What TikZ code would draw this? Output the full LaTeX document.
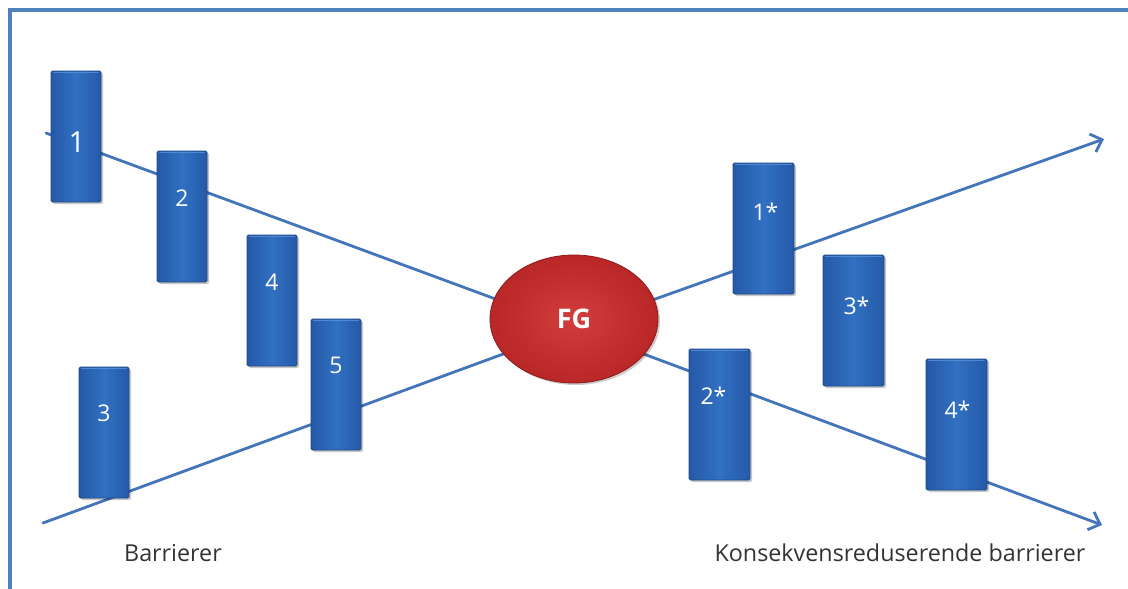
\documentclass[tikz,border=0pt]{standalone}
\usepackage{fontspec}
\setmainfont{Open Sans}
\usetikzlibrary{arrows.meta,shadows,shapes.geometric}

\definecolor{frameblue}{HTML}{4F81BD}
\definecolor{linkblue}{HTML}{4474BA}
\definecolor{barmid}{HTML}{3170C2}
\definecolor{baredge}{HTML}{2659A8}
\definecolor{barline}{HTML}{1E4A8A}
\definecolor{barhi}{HTML}{5A92D8}
\definecolor{fgin}{HTML}{D23C3C}
\definecolor{fgout}{HTML}{BA2727}
\definecolor{fgline}{HTML}{8E1B1B}
\definecolor{captext}{HTML}{333333}

\tikzset{
  bar/.style={rectangle, minimum width=50pt, minimum height=131pt, inner sep=0pt,
    left color=baredge, right color=baredge, middle color=barmid,
    draw=barline, line width=0.8pt, rounded corners=1.5pt,
    drop shadow={shadow xshift=2pt, shadow yshift=-2pt, opacity=0.22, fill=black}},
  widebar/.style={bar, minimum width=61pt},
  bevel/.style={draw=barhi, line width=1.2pt, opacity=0.8, line cap=round},
  bartext/.style={text=white, font=\fontsize{23}{25}\selectfont, inner sep=0pt},
  link/.style={draw=linkblue, line width=2.8pt, line cap=round},
  arrowlink/.style={link, -{Straight Barb[length=10pt, width=19pt, line width=2.8pt]}},
  caption/.style={text=captext, font=\fontsize{23.3}{25}\selectfont, inner sep=0pt},
}

\begin{document}
\begin{tikzpicture}[x=1pt, y=-1pt]
  \useasboundingbox (0,0) rectangle (1128,589);
  \fill[white] (0,0) rectangle (1128,589);

  % frame along the top and left edges
  \fill[frameblue] (8,8) rectangle (1128,12);
  \fill[frameblue] (8,8) rectangle (12,589);

  % line end points
  \coordinate (hub) at (574,328);
  \coordinate (inA) at (46,133);
  \coordinate (inB) at (43,523);
  \coordinate (outA) at (1104,139);
  \coordinate (outB) at (1102,525);

  % lines running through the bow tie
  \draw[link] (inA) -- (hub);
  \draw[link] (inB) -- (hub);
  \draw[arrowlink] (hub) -- (outA);
  \draw[arrowlink] (hub) -- (outB);

  % central event
  \node[ellipse, minimum width=168pt, minimum height=128pt, inner sep=0pt,
        inner color=fgin, outer color=fgout, draw=fgline, line width=0.8pt,
        drop shadow={shadow xshift=2pt, shadow yshift=-2pt, opacity=0.2, fill=black}]
        (fg) at (574,319) {};
  \node[text=white, font=\bfseries\fontsize{27}{29}\selectfont, inner sep=0pt]
        (fglabel) at (fg) {FG};

  % barriers on the cause side
  \node[bar] (b1) at (76,136.5) {};
  \node[bar] (b2) at (182,216.5) {};
  \node[bar] (b4) at (272,300.5) {};
  \node[bar] (b5) at (336,384.5) {};
  \node[bar] (b3) at (104,432.5) {};

  % barriers on the consequence side
  \node[widebar] (c1) at (763.5,228.5) {};
  \node[widebar] (c3) at (853.5,320.5) {};
  \node[widebar] (c2) at (719.5,414.5) {};
  \node[widebar] (c4) at (956.5,424.5) {};

  % light bevel along the top of every barrier
  \foreach \b in {b1,b2,b4,b5,b3,c1,c3,c2,c4}
    \draw[bevel] ([xshift=3pt,yshift=-2pt]\b.north west) -- ([xshift=-3pt,yshift=-2pt]\b.north east);

  \node[text=white, font=\fontsize{29}{31}\selectfont, inner sep=0pt] (t1) at (77,142) {1};
  \node[bartext] (t2) at ([yshift=-48pt]b2.north) {2};
  \node[bartext] (t4) at ([yshift=-48pt]b4.north) {4};
  \node[bartext] (t5) at ([yshift=-47pt]b5.north) {5};
  \node[bartext] (t3) at ([yshift=-47pt]b3.north) {3};
  \node[bartext] (u1) at ([xshift=2pt,yshift=-49pt]c1.north) {1*};
  \node[bartext] (u3) at ([xshift=3pt,yshift=-51pt]c3.north) {3*};
  \node[bartext] (u2) at ([xshift=-6pt,yshift=-47pt]c2.north) {2*};
  \node[bartext] (u4) at ([xshift=1pt,yshift=-51pt]c4.north) {4*};

  % captions
  \node[caption] (capL) at (173,553) {Barrierer};
  \node[caption] (capR) at (900,553) {Konsekvensreduserende barrierer};
\end{tikzpicture}
\end{document}
